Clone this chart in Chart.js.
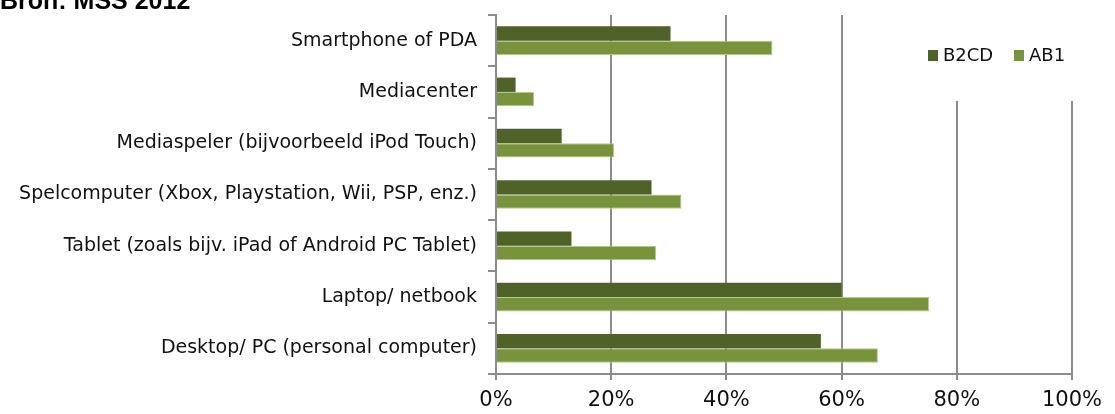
<!DOCTYPE html>
<html>
<head>
<meta charset="utf-8">
<script src="https://cdn.jsdelivr.net/npm/chart.js@4"></script>
<style>
  html, body { margin: 0; padding: 0; background: #fff; overflow: hidden; }
  #wrap { position: relative; width: 1115px; height: 414px; }
  #title { position: absolute; left: 0; top: -12px; font: bold 25px "Liberation Sans", Arial, sans-serif; color: #000; white-space: nowrap; line-height: 25px; }
</style>
</head>
<body>
<div id="wrap">
  <canvas id="c" width="1115" height="414"></canvas>
  <div id="title">Bron: MSS 2012</div>
</div>
<script>
const categories = [
  "Smartphone of PDA",
  "Mediacenter",
  "Mediaspeler (bijvoorbeeld iPod Touch)",
  "Spelcomputer (Xbox, Playstation, Wii, PSP, enz.)",
  "Tablet (zoals bijv. iPad of Android PC Tablet)",
  "Laptop/ netbook",
  "Desktop/ PC (personal computer)"
];
const seriesNames = ["B2CD", "AB1"];
const b2cd = [30.3, 3.4, 11.4, 27.0, 13.1, 60.0, 56.4];
const ab1 = [48.0, 6.6, 20.5, 32.2, 27.8, 75.2, 66.3];
const xTicks = [0, 20, 40, 60, 80, 100];

const DARK = '#4F6228';
const LIGHT = '#77933C';
const GRID = '#8c8c8c';

const legendBox = {
  id: 'legendBox',
  afterDatasetsDraw(chart) {
    const ctx = chart.ctx;
    ctx.save();
    ctx.fillStyle = '#ffffff';
    ctx.fillRect(880, 0, 235, 101);
    ctx.font = '18px "DejaVu Sans", Verdana, sans-serif';
    ctx.textBaseline = 'middle';
    const items = chart.data.datasets;
    const xs = [928, 1014];
    items.forEach((ds, i) => {
      ctx.fillStyle = ds.backgroundColor;
      ctx.fillRect(xs[i], 50, 10, 11);
      ctx.fillStyle = '#111';
      ctx.fillText(ds.label, xs[i] + 15, 56);
    });
    ctx.restore();
  }
};

new Chart(document.getElementById('c'), {
  type: 'bar',
  data: {
    labels: categories,
    datasets: [
      { label: seriesNames[0], data: b2cd, backgroundColor: DARK, borderWidth: 0 },
      { label: seriesNames[1], data: ab1, backgroundColor: LIGHT, borderColor: '#b3c98d', borderWidth: { top: 1, right: 1, bottom: 1, left: 0 }, borderSkipped: 'start' }
    ]
  },
  options: {
    indexAxis: 'y',
    responsive: false,
    animation: false,
    devicePixelRatio: 1,
    layout: { padding: { top: 15, right: 43, left: 0, bottom: 0 } },
    datasets: { bar: { barPercentage: 1.0, categoryPercentage: 0.56 } },
    plugins: { legend: { display: false }, tooltip: { enabled: false }, title: { display: false } },
    scales: {
      x: {
        min: 0, max: 100,
        afterBuildTicks(scale) { scale.ticks = xTicks.map(v => ({ value: v })); },
        afterFit(scale) { scale.height = 40; scale.paddingLeft = 0; scale.paddingRight = 0; },
        border: { display: true, color: GRID, width: 2 },
        grid: { color: GRID, lineWidth: 2, tickLength: 6, drawTicks: true },
        ticks: {
          callback: v => v + '%',
          font: { family: '"DejaVu Sans", sans-serif', size: 21 },
          color: '#111',
          padding: 8,
          maxRotation: 0
        }
      },
      y: {
        afterFit(scale) { scale.width = 496; scale.paddingTop = 0; scale.paddingBottom = 0; },
        border: { display: true, color: GRID, width: 2 },
        grid: { drawOnChartArea: false, color: GRID, lineWidth: 2, tickLength: 8, offset: true },
        ticks: {
          font: { family: '"DejaVu Sans", Verdana, sans-serif', size: 19 },
          color: '#111',
          padding: 11,
          autoSkip: false
        }
      }
    }
  },
  plugins: [legendBox]
});
</script>
</body>
</html>
